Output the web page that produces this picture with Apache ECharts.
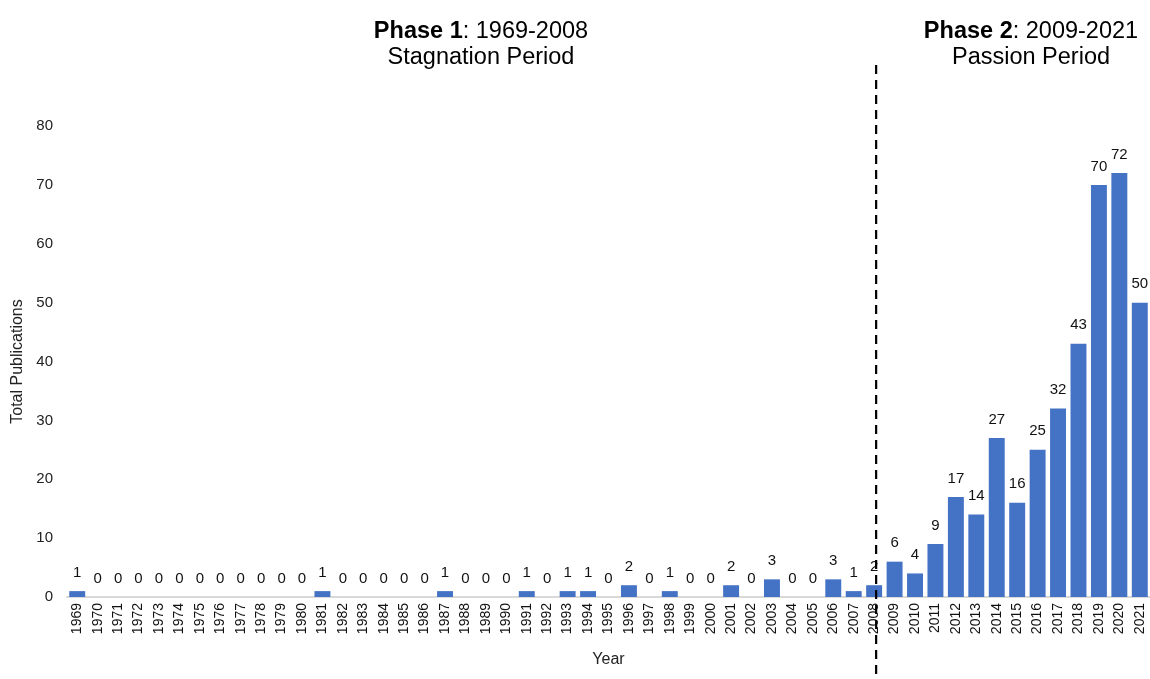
<!DOCTYPE html>
<html>
<head>
<meta charset="utf-8">
<script src="https://cdn.jsdelivr.net/npm/echarts@6/dist/echarts.min.js"></script>
<style>
html,body{margin:0;padding:0;background:#fff;}
#chart{width:1150px;height:679px;}
</style>
</head>
<body>
<div id="chart"></div>
<script>
const years = ['1969','1970','1971','1972','1973','1974','1975','1976','1977','1978','1979','1980','1981','1982','1983','1984','1985','1986','1987','1988','1989','1990','1991','1992','1993','1994','1995','1996','1997','1998','1999','2000','2001','2002','2003','2004','2005','2006','2007','2008','2009','2010','2011','2012','2013','2014','2015','2016','2017','2018','2019','2020','2021'];
const publications = [1,0,0,0,0,0,0,0,0,0,0,0,1,0,0,0,0,0,1,0,0,0,1,0,1,1,0,2,0,1,0,0,2,0,3,0,0,3,1,2,6,4,9,17,14,27,16,25,32,43,70,72,50];
const yTicks = [0,10,20,30,40,50,60,70,80];
const phaseBoundary = '2008';

const FONT = 'Liberation Sans, Arial, sans-serif';
const TS = 23.5;
const chart = echarts.init(document.getElementById('chart'));
const option = {
  backgroundColor: '#fff',
  animation: false,
  textStyle: { fontFamily: FONT },
  title: [
    {
      text: '{b|Phase 1}: 1969-2008\nStagnation Period',
      left: 476, top: 14, textAlign: 'center',
      textStyle: { fontFamily: FONT, fontSize: TS, fontWeight: 'normal', color: '#000', lineHeight: 26,
        rich: { b: { fontFamily: FONT, fontSize: TS, fontWeight: 'bold', color: '#000', lineHeight: 26 } } }
    },
    {
      text: '{b|Phase 2}: 2009-2021\nPassion Period',
      left: 1026, top: 14, textAlign: 'center',
      textStyle: { fontFamily: FONT, fontSize: TS, fontWeight: 'normal', color: '#000', lineHeight: 26,
        rich: { b: { fontFamily: FONT, fontSize: TS, fontWeight: 'bold', color: '#000', lineHeight: 26 } } }
    }
  ],
  grid: { left: 67, right: 0, top: 126, bottom: 82, containLabel: false },
  xAxis: {
    type: 'category',
    data: years,
    name: 'Year',
    nameLocation: 'middle',
    nameGap: 55,
    nameTextStyle: { fontFamily: FONT, fontSize: 16, color: '#222' },
    axisLine: { show: true, lineStyle: { color: '#d9d9d9', width: 2 } },
    axisTick: { show: false },
    axisLabel: { interval: 0, rotate: 90, fontFamily: FONT, fontSize: 14, color: '#111', margin: 6 },
    splitLine: { show: false }
  },
  yAxis: {
    type: 'value',
    min: yTicks[0], max: yTicks[yTicks.length - 1], interval: 10,
    name: 'Total Publications',
    nameLocation: 'middle',
    nameRotate: 90,
    nameGap: 41,
    nameTextStyle: { fontFamily: FONT, fontSize: 16, color: '#222' },
    axisLine: { show: false },
    axisTick: { show: false },
    splitLine: { show: false },
    axisLabel: { fontFamily: FONT, fontSize: 15, color: '#222', margin: 14 }
  },
  series: [{
    type: 'bar',
    data: publications,
    barCategoryGap: '22%',
    itemStyle: { color: '#4472C4' },
    label: { show: true, position: 'top', distance: 11, fontFamily: FONT, fontSize: 15, color: '#111' }
  }]
};
chart.setOption(option);

const lx = chart.convertToPixel({ xAxisIndex: 0 }, phaseBoundary) + 2;
chart.setOption({
  graphic: [{
    type: 'line',
    shape: { x1: lx, y1: 65, x2: lx, y2: 679 },
    style: { stroke: '#000', lineWidth: 2.2, lineDash: [9, 6] },
    z: 100
  }]
});
</script>
</body>
</html>
